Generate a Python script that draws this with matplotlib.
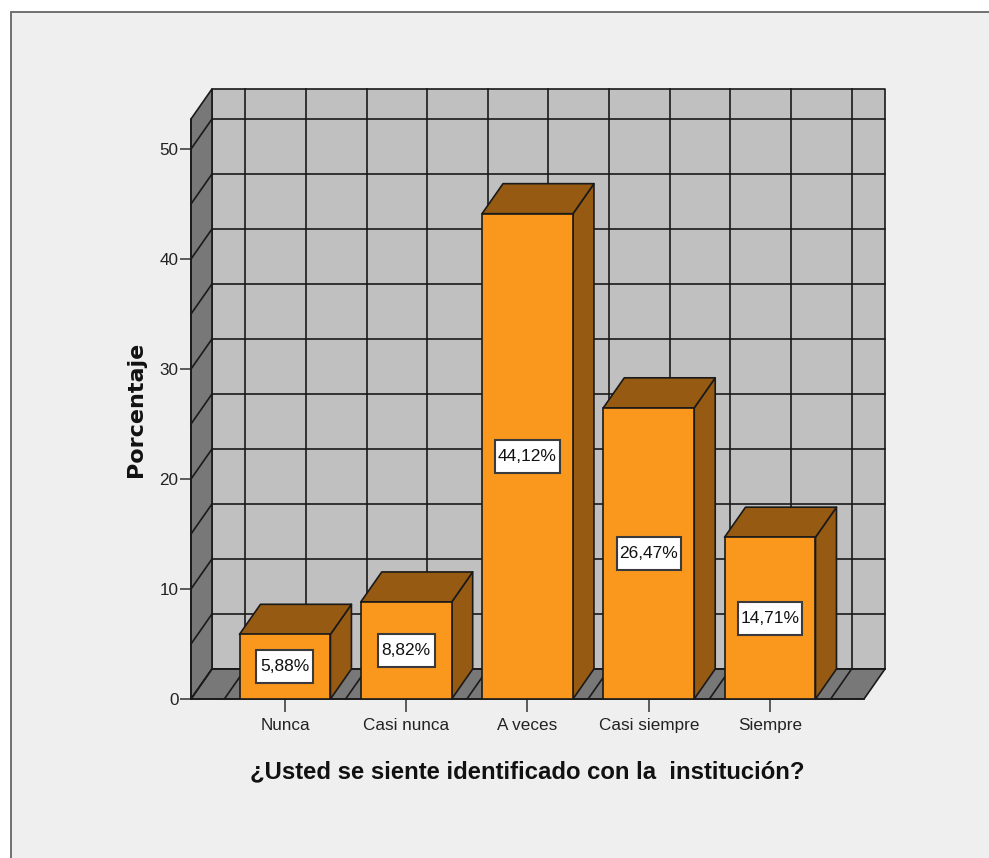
"""
Bar chart in the SPSS 3D look, drawn on a plain 2D axes
"""
import matplotlib
matplotlib.use('Agg')
import matplotlib.pyplot as plt
from matplotlib.patches import Polygon, Rectangle

plt.rcParams['font.family'] = ['Liberation Sans', 'DejaVu Sans']

categories = ['Nunca', 'Casi nunca', 'A veces', 'Casi siempre', 'Siempre']
values = [5.88, 8.82, 44.12, 26.47, 14.71]
bar_labels = ['5,88%', '8,82%', '44,12%', '26,47%', '14,71%']
y_ticks = [0, 10, 20, 30, 40, 50]
y_grid = [0, 5, 10, 15, 20, 25, 30, 35, 40, 45, 50]
x_grid = [-0.5, 0, 0.5, 1, 1.5, 2, 2.5, 3, 3.5, 4, 4.5]

# axis limits and depth of the fake 3D box, in data units
x_min, x_max = -0.775, 4.775
y_max = 52.73
depth_x = 0.173
depth_y = 2.73
bar_width = 0.75
box_height = 3.0

line_col = '#1a1a1a'
wall_col = '#c0c0c0'
floor_col = '#787878'
front_col = '#fa981e'
dark_col = '#965a12'
lw = 1.2


def face(ax, pts, color, z):
    ax.add_patch(Polygon(pts, closed=True, facecolor=color, edgecolor=line_col,
                         linewidth=lw, zorder=z, clip_on=False, joinstyle='round'))


def seg(ax, xs, ys, z=2):
    ax.plot(xs, ys, color=line_col, linewidth=lw, zorder=z, clip_on=False)


fig = plt.figure(figsize=(9.89, 8.58), dpi=100, facecolor='white')

# grey chart background, open at the right and bottom edges
fig.add_artist(Rectangle((11 / 989, -0.01), 1.01, 1 - 12 / 858 + 0.01, transform=fig.transFigure,
                         facecolor='#efefef', edgecolor='#666666', linewidth=1.3, zorder=-1))

ax = fig.add_axes([191 / 989, 159 / 858, 673 / 989, 580 / 858])
ax.set_facecolor('none')
ax.set_xlim(x_min, x_max)
ax.set_ylim(0, y_max)

# back wall, side wall and floor
face(ax, [(x_min + depth_x, depth_y), (x_max + depth_x, depth_y),
          (x_max + depth_x, y_max + depth_y), (x_min + depth_x, y_max + depth_y)], wall_col, 1)
face(ax, [(x_min, 0), (x_min + depth_x, depth_y),
          (x_min + depth_x, y_max + depth_y), (x_min, y_max)], floor_col, 1)
face(ax, [(x_min, 0), (x_max, 0), (x_max + depth_x, depth_y), (x_min + depth_x, depth_y)], floor_col, 1)

# grid on the walls
for y in y_grid:
    seg(ax, [x_min, x_min + depth_x], [y, y + depth_y])
    seg(ax, [x_min + depth_x, x_max + depth_x], [y + depth_y, y + depth_y])
for x in x_grid:
    seg(ax, [x, x + depth_x], [0, depth_y])
    seg(ax, [x + depth_x, x + depth_x], [depth_y, y_max + depth_y])

# bars, left to right so each one sits over the previous
for i, (val, txt) in enumerate(zip(values, bar_labels)):
    x0 = i - bar_width / 2
    x1 = i + bar_width / 2
    face(ax, [(x1, 0), (x1 + depth_x, depth_y), (x1 + depth_x, val + depth_y), (x1, val)], dark_col, 4)
    face(ax, [(x0, val), (x1, val), (x1 + depth_x, val + depth_y), (x0 + depth_x, val + depth_y)], dark_col, 4)
    ax.bar(i, val, width=bar_width, color=front_col, edgecolor=line_col, linewidth=lw, zorder=5)
    # label box is wider for the 6 character labels
    box_w = 0.47 if len(txt) == 5 else 0.53
    ax.add_patch(Rectangle((i - box_w / 2, val / 2 - box_height / 2), box_w, box_height,
                           facecolor='white', edgecolor='#3a3a3a', linewidth=1.5, zorder=6))
    ax.text(i, val / 2, txt, ha='center', va='center', fontsize=12.5, color='#111111', zorder=7)

for side in ['top', 'right']:
    ax.spines[side].set_visible(False)
for side in ['left', 'bottom']:
    ax.spines[side].set_color(line_col)
    ax.spines[side].set_linewidth(lw)

ax.set_xticks(range(len(categories)))
ax.set_xticklabels(categories)
ax.set_yticks(y_ticks)
ax.tick_params(axis='x', length=9, width=1.1, color='#333333', labelsize=12.3, labelcolor='#222222', pad=5)
ax.tick_params(axis='y', length=8, width=1.1, color='#333333', labelsize=12.3, labelcolor='#222222', pad=1)

ax.set_xlabel('¿Usted se siente identificado con la  institución?', fontsize=17.2,
              fontweight='bold', color='#111111', labelpad=19)
ax.set_ylabel('Porcentaje', family='DejaVu Sans', fontsize=16, fontweight='bold',
              color='#111111', labelpad=10)

fig.savefig('out.png', dpi=100)
plt.close()
